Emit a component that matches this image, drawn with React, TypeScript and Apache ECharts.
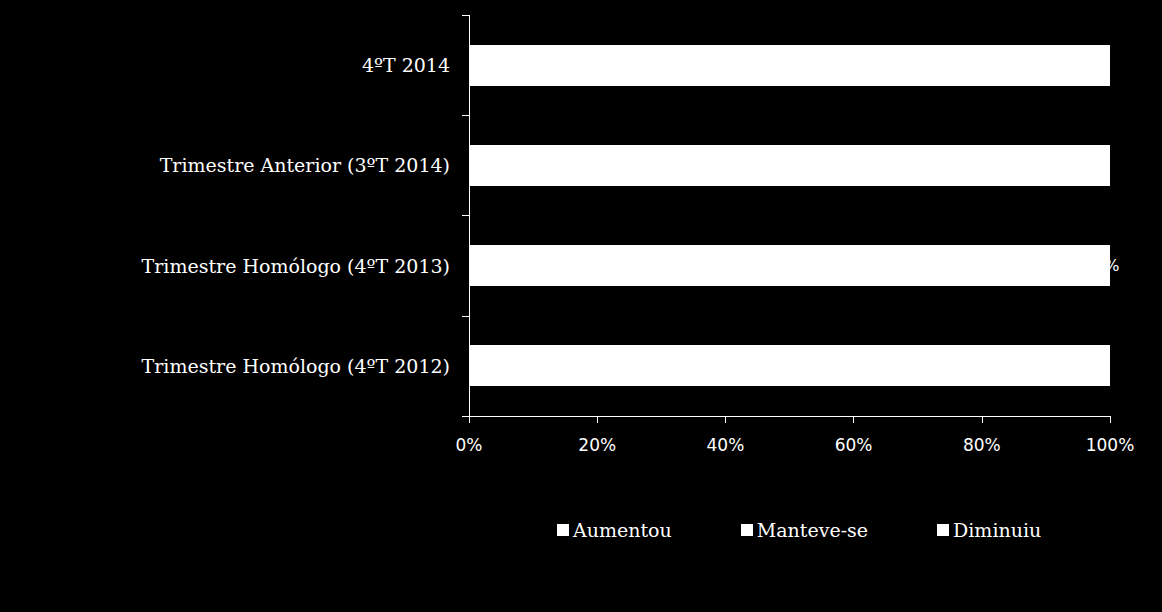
import React, { useEffect, useRef } from "react";
import * as echarts from "echarts";

const categories = [
  "Trimestre Homólogo (4ºT 2012)",
  "Trimestre Homólogo (4ºT 2013)",
  "Trimestre Anterior (3ºT 2014)",
  "4ºT 2014",
];
const aumentou = [15, 25, 20, 18];
const manteveSe = [55, 74, 62, 64];
const diminuiu = [30, 1, 18, 18];
const xTicks = [0, 20, 40, 60, 80, 100];

export default function App() {
  const ref = useRef<HTMLDivElement>(null);
  useEffect(() => {
    document.body.style.margin = "0";
    document.body.style.background = "#000";
    const chart = echarts.init(ref.current!, null, { renderer: "svg" });
    const serif = "'DejaVu Serif', 'Liberation Serif', serif";
    const sans = "'DejaVu Sans', sans-serif";
    const mk = (name: string, data: number[]) => ({
      name,
      type: "bar",
      stack: "total",
      data,
      barWidth: "41%",
      itemStyle: { color: "#ffffff" },
      label: {
        show: true,
        position: "inside",
        color: "#ffffff",
        fontFamily: sans,
        fontSize: 16,
        formatter: (p: any) => p.value + "%",
      },
    });
    chart.setOption({
      animation: false,
      backgroundColor: "#000000",
      grid: { left: 469, right: 52, top: 15, bottom: 196, containLabel: false },
      xAxis: {
        type: "value",
        min: 0,
        max: xTicks[xTicks.length - 1],
        interval: 20,
        axisLine: { show: true, lineStyle: { color: "#ffffff", width: 1 } },
        axisTick: { show: true, length: 7, lineStyle: { color: "#ffffff" } },
        splitLine: { show: false },
        axisLabel: {
          color: "#ffffff",
          fontFamily: sans,
          fontSize: 17,
          margin: 20,
          formatter: (v: number) => v + "%",
        },
      },
      yAxis: {
        type: "category",
        data: categories,
        axisLine: { show: true, lineStyle: { color: "#ffffff", width: 1 } },
        axisTick: { show: true, length: 7, lineStyle: { color: "#ffffff" } },
        axisLabel: { color: "#ffffff", fontFamily: serif, fontSize: 19, margin: 19 },
      },
      legend: {
        left: 552,
        top: 515,
        icon: "rect",
        itemWidth: 12,
        itemHeight: 12,
        itemGap: 69,
        textStyle: { color: "#ffffff", fontFamily: serif, fontSize: 19, padding: [0, 0, 0, -1] },
        data: ["Aumentou", "Manteve-se", "Diminuiu"],
      },
      series: [mk("Aumentou", aumentou), mk("Manteve-se", manteveSe), mk("Diminuiu", diminuiu)],
    });
    return () => chart.dispose();
  }, []);
  return (
    <>
      <style>{`.chart-root svg path { shape-rendering: crispEdges; }`}</style>
      <div className="chart-root" ref={ref} style={{ width: 1162, height: 612, background: "#000" }} />
    </>
  );
}
